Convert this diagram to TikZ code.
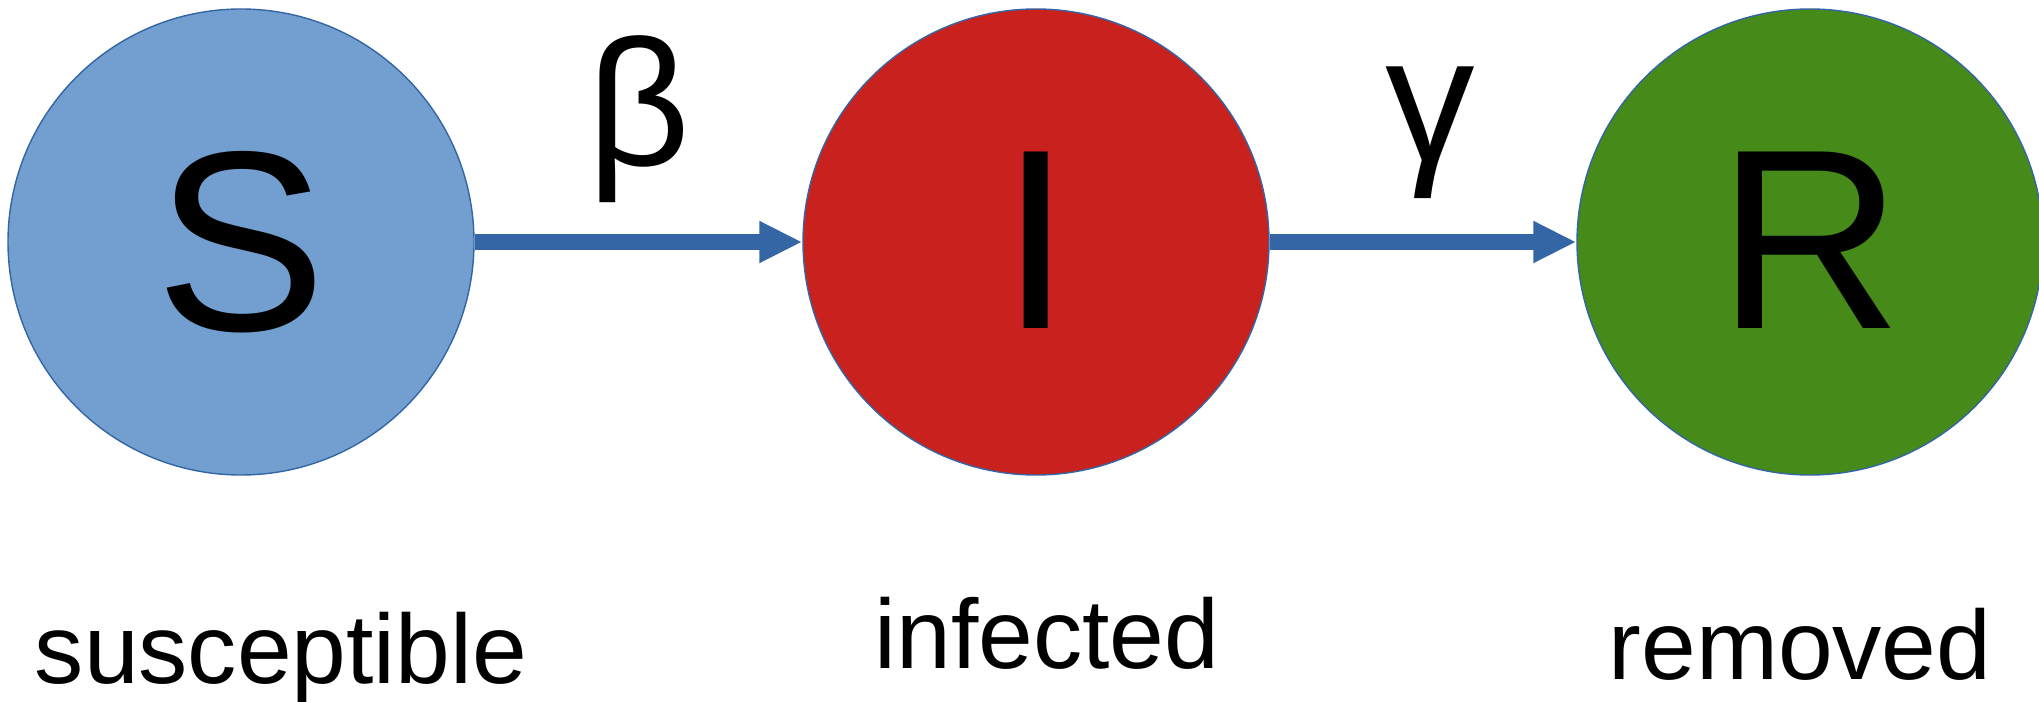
\documentclass[tikz,border=0pt]{standalone}
\usepackage{fontspec}
\setmainfont{Liberation Sans}
\usetikzlibrary{arrows.meta,positioning}

\definecolor{edgeblue}{HTML}{3465A4}
\definecolor{sblue}{HTML}{729FCF}
\definecolor{ired}{HTML}{C9211E}
\definecolor{rgreen}{HTML}{468A1A}

\tikzset{
  state/.style={circle,draw=edgeblue,line width=0.4pt,minimum size=4.66cm,inner sep=0pt},
  flow/.style={draw=edgeblue,line width=0.16cm,-{Triangle[length=0.43cm,width=0.39cm]}},
  rate/.style={anchor=base,font=\fontsize{51}{51}\selectfont},
  caption/.style={anchor=base,font=\fontsize{28}{28}\selectfont}
}

\begin{document}
\begin{tikzpicture}
  \useasboundingbox (0,0) rectangle (20.39,-7.02);

  % compartments
  \node[state,fill=sblue]  (S) at (2.41,-2.42) {};
  \node[state,fill=ired]   (I) at (10.36,-2.42) {};
  \node[state,fill=rgreen] (R) at (18.10,-2.42) {};

  % letters sit on a common baseline
  \node[anchor=base,font=\fontsize{73}{73}\selectfont] (Sl) at (2.41,-3.31) {S};
  \node[anchor=base,font=\fontsize{73}{73}\selectfont] (Il) at (10.36,-3.29) {I};
  \node[anchor=base,font=\fontsize{73}{73}\selectfont] (Rl) at (18.10,-3.29) {R};

  % transitions
  \draw[flow] (S) -- (I);
  \draw[flow] (I) -- (R);
  \node[rate] (beta)  at (6.39,-1.66) {β};
  \node[rate] (gamma) at (14.30,-1.62) {γ};

  % names under the circles
  \node[caption] (sus) at (2.81,-6.83) {susceptible};
  \node[caption] (inf) at (10.47,-6.68) {infected};
  \node[caption] (rem) at (18.00,-6.79) {removed};
\end{tikzpicture}
\end{document}
